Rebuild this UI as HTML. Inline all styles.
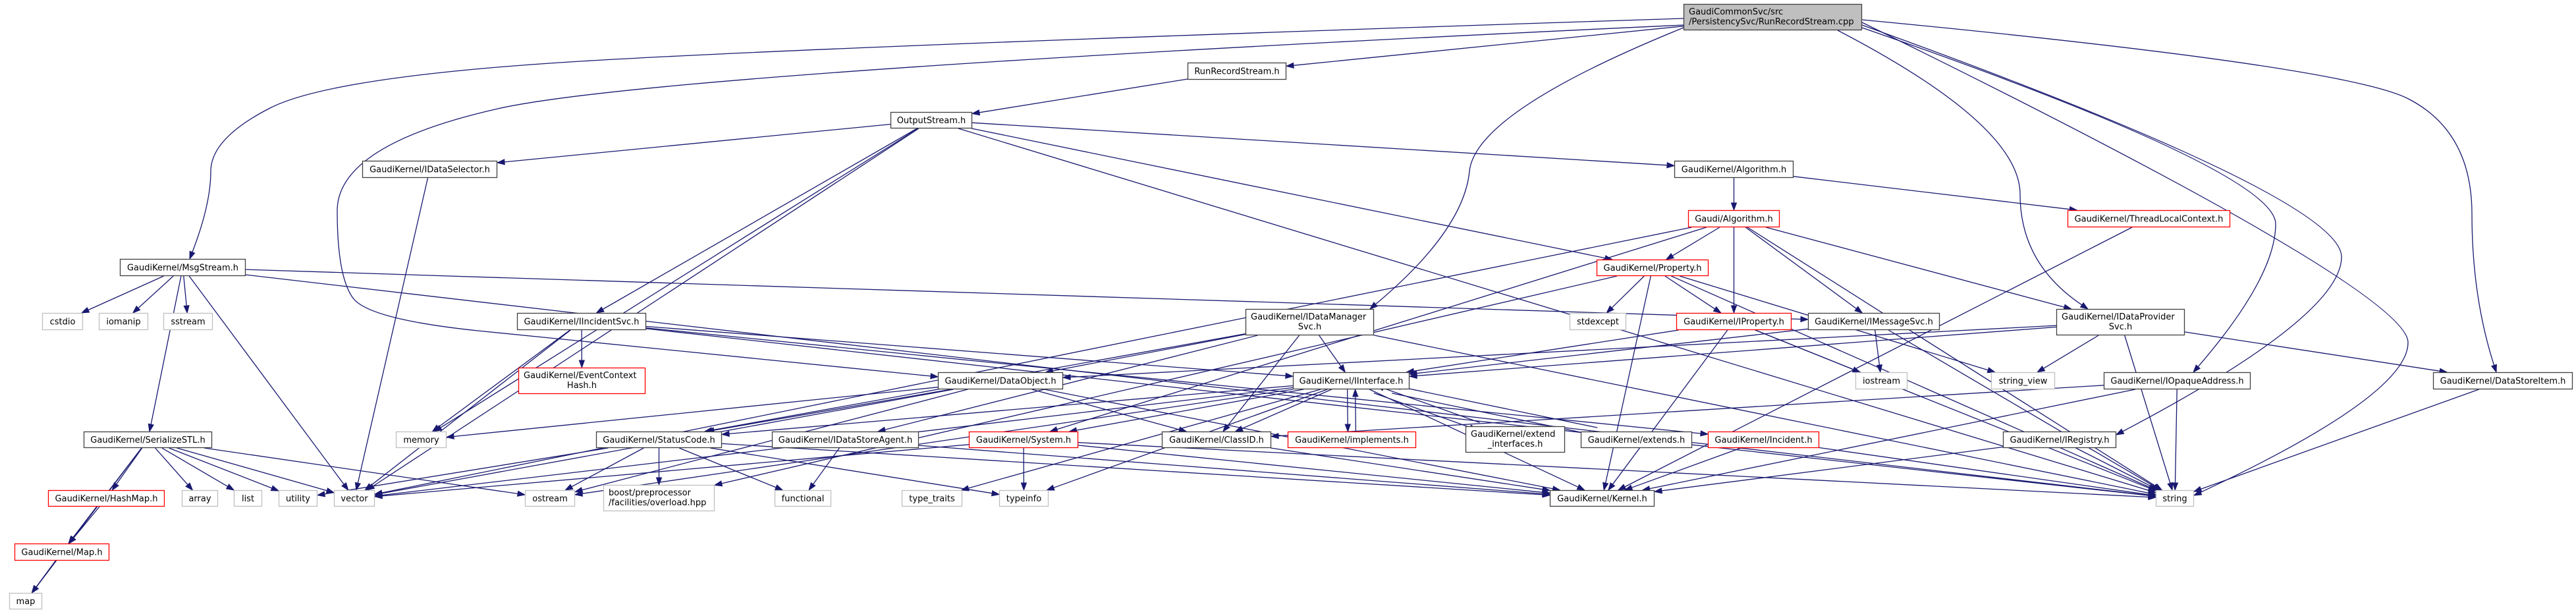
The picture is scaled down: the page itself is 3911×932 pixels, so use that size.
<!DOCTYPE html>
<html><head><meta charset="utf-8">
<style>
html,body{margin:0;padding:0;background:#fff;}
svg{display:block;}
text{font-family:"DejaVu Sans","Liberation Sans",sans-serif;font-size:13px;fill:#000;}
</style></head>
<body>
<svg id="g" width="3911" height="932" viewBox="0 0 3911 932" xmlns="http://www.w3.org/2000/svg">
<g id="edges"></g>
<g id="nodes"></g>
</svg>
<script>
var N={
root:[2556,6,2827,46,'r',['GaudiCommonSvc/src','/PersistencySvc/RunRecordStream.cpp']],
rrs:[1803,95,1953,121,'b',['RunRecordStream.h']],
os:[1352,170,1476,195,'b',['OutputStream.h']],
msg:[182,393,373,419,'b',['GaudiKernel/MsgStream.h']],
sel:[550,244,755,270,'b',['GaudiKernel/IDataSelector.h']],
galg:[2542,244,2723,270,'b',['GaudiKernel/Algorithm.h']],
alg:[2563,319,2702,345,'x',['Gaudi/Algorithm.h']],
prop:[2424,394,2594,419,'x',['GaudiKernel/Property.h']],
tlc:[3139,319,3386,345,'x',['GaudiKernel/ThreadLocalContext.h']],
cstdio:[64,475,126,501,'g',['cstdio']],
iomanip:[150,475,225,501,'g',['iomanip']],
sstream:[248,475,323,501,'g',['sstream']],
inc:[785,475,981,501,'b',['GaudiKernel/IIncidentSvc.h']],
ech:[787,558,980,598,'x',['GaudiKernel/EventContext','Hash.h']],
ser:[127,655,322,680,'b',['GaudiKernel/SerializeSTL.h']],
memory:[601,655,678,680,'g',['memory']],
sc:[905,655,1096,680,'b',['GaudiKernel/StatusCode.h']],
hash:[73,744,250,769,'x',['GaudiKernel/HashMap.h']],
array:[276,744,331,769,'g',['array']],
list:[355,744,398,769,'g',['list']],
utility:[423,744,482,769,'g',['utility']],
vector:[507,744,569,769,'g',['vector']],
ostream:[797,744,873,769,'g',['ostream']],
boost:[916,736,1085,776,'g',['boost/preprocessor','/facilities/overload.hpp']],
mapH:[22,825,166,851,'x',['GaudiKernel/Map.h']],
map:[14,900,64,925,'g',['map']],
dobj:[1424,565,1614,591,'b',['GaudiKernel/DataObject.h']],
dms:[1891,469,2086,509,'b',['GaudiKernel/IDataManager','Svc.h']],
agent:[1172,655,1395,680,'b',['GaudiKernel/IDataStoreAgent.h']],
sys:[1471,655,1637,680,'x',['GaudiKernel/System.h']],
cid:[1764,655,1930,680,'b',['GaudiKernel/ClassID.h']],
impl:[1955,655,2150,680,'x',['GaudiKernel/implements.h']],
functional:[1176,744,1262,769,'g',['functional']],
tt:[1369,744,1461,769,'g',['type_traits']],
typeinfo:[1517,744,1592,769,'g',['typeinfo']],
ii:[1963,565,2140,591,'b',['GaudiKernel/IInterface.h']],
stdexcept:[2383,475,2469,501,'g',['stdexcept']],
iprop:[2545,475,2720,501,'x',['GaudiKernel/IProperty.h']],
ims:[2745,475,2945,501,'b',['GaudiKernel/IMessageSvc.h']],
iostream:[2817,565,2896,591,'g',['iostream']],
ext:[2225,647,2376,687,'b',['GaudiKernel/extend','_interfaces.h']],
exts:[2400,655,2569,680,'b',['GaudiKernel/extends.h']],
incid:[2593,655,2762,680,'x',['GaudiKernel/Incident.h']],
kernel:[2353,744,2512,769,'b',['GaudiKernel/Kernel.h']],
dps:[3122,469,3317,509,'b',['GaudiKernel/IDataProvider','Svc.h']],
sv:[3023,565,3120,591,'g',['string_view']],
opq:[3194,565,3417,591,'b',['GaudiKernel/IOpaqueAddress.h']],
dsi:[3694,565,3906,591,'b',['GaudiKernel/DataStoreItem.h']],
reg:[3041,655,3213,680,'b',['GaudiKernel/IRegistry.h']],
string:[3273,744,3331,769,'g',['string']]
};
var W={
'root|msg':[[2556,28],[1200,72],[500,118],[320,210],[320,310],[288,393]],
'root|dobj':[[2556,38],[1000,110],[512,220],[512,420],[560,485],[900,520],[1424,572]],
'root|dms':[[2556,42],[2240,170],[2222,350],[2080,469]],
'root|dps':[[2790,46],[3067,190],[3067,400],[3170,469]],
'root|opq':[[2827,42],[3455,260],[3455,420],[3330,565]],
'root|reg':[[2827,38],[3555,300],[3555,480],[3213,660]],
'root|string':[[2827,34],[3656,440],[3656,600],[3331,752]],
'root|dsi':[[2827,30],[3560,100],[3753,200],[3753,450],[3790,565]]
};
var E=[
['root','rrs'],['root','msg'],['root','dobj'],['root','dms'],['root','dps'],['root','opq'],['root','reg'],['root','dsi'],['root','string'],
['rrs','os'],
['os','sel'],['os','vector'],['os','memory'],['os','inc'],['os','galg'],['os','prop'],['os','string'],
['msg','cstdio'],['msg','iomanip'],['msg','sstream'],['msg','ser'],['msg','vector'],['msg','string'],['msg','ims'],
['ser','hash'],['ser','mapH'],['ser','map'],['ser','array'],['ser','list'],['ser','utility'],['ser','vector'],['ser','ostream'],
['hash','mapH'],['mapH','map'],['sel','vector'],
['inc','ech'],['inc','memory'],['inc','vector'],['inc','ii'],['inc','incid'],['inc','string'],
['galg','alg'],['galg','tlc'],
['alg','prop'],['alg','iprop'],['alg','ims'],['alg','dps'],['alg','string'],['alg','vector'],['alg','sys'],
['prop','stdexcept'],['prop','iprop'],['prop','string'],['prop','sv'],['prop','kernel'],['prop','boost'],
['iprop','ii'],['iprop','iostream'],['iprop','string'],['iprop','kernel'],
['ims','ii'],['ims','iostream'],['ims','string'],
['dms','ii'],['dms','dobj'],['dms','cid'],['dms','sc'],['dms','string'],['dms','agent'],
['dps','ii'],['dps','dobj'],['dps','sv'],['dps','string'],['dps','dsi'],
['dobj','sc'],['dobj','cid'],['dobj','kernel'],['dobj','vector'],['dobj','memory'],['dobj','ostream'],
['ii','sc'],['ii','sys'],['ii','kernel'],['ii','cid'],['ii','impl'],['ii','ext'],['ii','exts'],['ii','ostream'],['ii','tt'],['ii','typeinfo'],['ii','vector'],
['impl','ii'],['ext','ii'],['exts','ii'],
['sc','ostream'],['sc','functional'],['sc','typeinfo'],['sc','utility'],['sc','kernel'],['sc','boost'],
['agent','functional'],['agent','kernel'],
['sys','vector'],['sys','typeinfo'],['sys','string'],['sys','kernel'],
['cid','kernel'],['incid','kernel'],['incid','string'],
['opq','string'],['opq','kernel'],['opq','cid'],
['reg','string'],['reg','kernel'],['dsi','string'],['tlc','kernel']
];
var NS='http://www.w3.org/2000/svg';
function el(t,a,p){var e=document.createElementNS(NS,t);for(var k in a)e.setAttribute(k,a[k]);p.appendChild(e);return e;}
var ng=document.getElementById('nodes'),eg=document.getElementById('edges');
for(var id in N){var n=N[id],x1=n[0],y1=n[1],x2=n[2],y2=n[3],t=n[4];
 var fill=t=='r'?'#bfbfbf':'#fff',st=t=='g'?'#bfbfbf':(t=='x'?'#ff0000':'#404040');
 el('rect',{x:x1+0.5,y:y1+0.5,width:x2-x1-1,height:y2-y1-1,fill:fill,stroke:st,'stroke-width':1.3},ng);
 var L=n[5],w=x2-x1;
 for(var i=0;i<L.length;i++){
  var ty=L.length==1?(y1+y2)/2+4.5:y1+16+i*15;
  var tx,anc;
  if(L.length==1){tx=(x1+x2)/2;anc='middle';}
  else if(t=='r'||id=='boost'){tx=x1+8;anc='start';}
  else if(i==0){tx=x1+8;anc='start';}
  else{tx=(x1+x2)/2;anc='middle';}
  var te=el('text',{x:tx,y:ty,'text-anchor':anc},ng);te.textContent=L[i];
  var len=te.getComputedTextLength(),maxw=w-16;
  if(len>maxw){te.setAttribute('textLength',maxw);te.setAttribute('lengthAdjust','spacingAndGlyphs');}
 }}
function clip(n,dx,dy){var hw=(n[2]-n[0])/2,hh=(n[3]-n[1])/2;var tx=Math.abs(dx)>1e-6?hw/Math.abs(dx):1e9,ty=Math.abs(dy)>1e-6?hh/Math.abs(dy):1e9;return Math.min(tx,ty);}
var f=function(x,y){return x.toFixed(1)+','+y.toFixed(1);};
function arrow(ex,ey,dx,dy){var hx=ex-dx*11,hy=ey-dy*11,qx=-dy*4,qy=dx*4;
 el('path',{d:'M'+f(ex,ey)+' L'+f(hx+qx,hy+qy)+' L'+f(hx-qx,hy-qy)+' Z',fill:'#191970',stroke:'#191970','stroke-width':1},eg);return [hx,hy];}
var pairs={};E.forEach(function(e){pairs[e[0]+'|'+e[1]]=1;});
E.forEach(function(e){var key=e[0]+'|'+e[1];
 if(W[key]){var P=W[key],n=P.length;
  var ex=P[n-1][0],ey=P[n-1][1],dx=ex-P[n-2][0],dy=ey-P[n-2][1],l=Math.sqrt(dx*dx+dy*dy);dx/=l;dy/=l;
  var h=arrow(ex,ey,dx,dy);
  var d='M'+f(P[0][0],P[0][1]);
  for(var i=1;i<n-1;i++){var mx=(P[i][0]+P[i+1][0])/2,my=(P[i][1]+P[i+1][1])/2;
   if(i==n-2){mx=h[0];my=h[1];}
   d+=' Q'+f(P[i][0],P[i][1])+' '+f(mx,my);}
  el('path',{d:d,fill:'none',stroke:'#191970','stroke-width':1.3},eg);return;}
 var a=N[e[0]],b=N[e[1]];
 var ax=(a[0]+a[2])/2,ay=(a[1]+a[3])/2,bx=(b[0]+b[2])/2,by=(b[1]+b[3])/2;
 var dx=bx-ax,dy=by-ay,l=Math.sqrt(dx*dx+dy*dy);dx/=l;dy/=l;
 var off=pairs[e[1]+'|'+e[0]]?6:0;
 var px=-dy*off,py=dx*off;
 ax+=px;ay+=py;bx+=px;by+=py;
 var ta=clip(a,dx,dy),tb=clip(b,dx,dy);
 var sx=ax+dx*ta,sy=ay+dy*ta,ex=bx-dx*tb,ey=by-dy*tb;
 var h=arrow(ex,ey,dx,dy);
 el('path',{d:'M'+f(sx,sy)+' L'+f(h[0],h[1]),fill:'none',stroke:'#191970','stroke-width':1.3},eg);
});
</script>
</body></html>
